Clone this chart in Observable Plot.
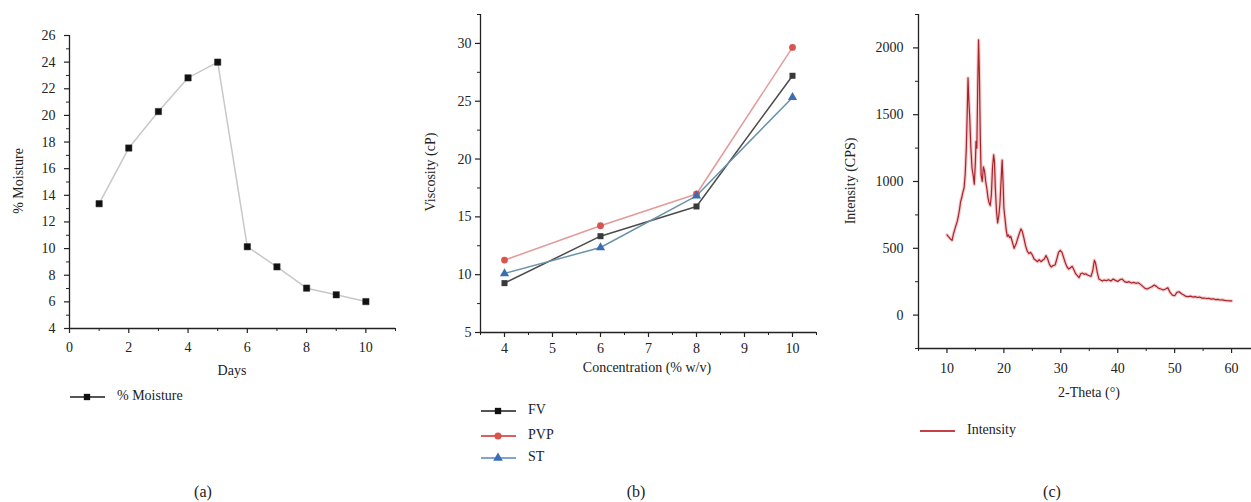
<!DOCTYPE html>
<html>
<head>
<meta charset="utf-8">
<script src="https://cdn.jsdelivr.net/npm/d3@7"></script>
<script src="https://cdn.jsdelivr.net/npm/@observablehq/plot@0.6"></script>
<style>
  html, body { margin: 0; padding: 0; background: #fff; }
  #page { position: relative; width: 1251px; height: 502px; overflow: hidden; font-family: "Liberation Serif", "DejaVu Serif", serif; color: #222; }
  .t { position: absolute; font-size: 14px; white-space: nowrap; transform: translate(-50%, -50%); }
  .rot { transform: translate(-50%, -50%) rotate(-90deg); }
  .cap { position: absolute; font-size: 16px; transform: translate(-50%, -50%); }
  .leg { position: absolute; font-size: 14px; white-space: nowrap; }
</style>
</head>
<body>
<div id="page"></div>
<script>
// ---------- Data ----------
// (a) Moisture vs days
const days = [1, 2, 3, 4, 5, 6, 7, 8, 9, 10];
const moisture = [13.37, 17.55, 20.29, 22.82, 24.0, 10.14, 8.63, 7.03, 6.53, 6.02];

// (b) Viscosity vs concentration
const concentration = [4, 6, 8, 10];
const viscFV = [9.27, 13.33, 15.9, 27.2];
const viscPVP = [11.26, 14.23, 16.98, 29.65];
const viscST = [10.1, 12.35, 16.82, 25.33];

// (c) XRD pattern
const theta = [10.0, 10.3, 10.6, 10.9, 11.1, 11.3, 11.5, 11.8, 12.0, 12.2, 12.4, 12.6, 12.8, 13.0, 13.2, 13.4, 13.55, 13.7, 13.85, 14.0, 14.2, 14.4, 14.6, 14.8, 15.0, 15.1, 15.25, 15.4, 15.55, 15.7, 15.85, 16.0, 16.2, 16.4, 16.6, 16.8, 17.0, 17.2, 17.4, 17.6, 17.8, 18.0, 18.2, 18.35, 18.5, 18.7, 18.9, 19.1, 19.3, 19.5, 19.7, 19.85, 20.0, 20.2, 20.4, 20.6, 20.8, 21.0, 21.2, 21.4, 21.6, 21.8, 22.0, 22.2, 22.4, 22.7, 23.0, 23.2, 23.5, 23.8, 24.1, 24.4, 24.7, 25.0, 25.3, 25.6, 25.9, 26.2, 26.5, 26.8, 27.1, 27.4, 27.7, 28.0, 28.3, 28.6, 29.0, 29.3, 29.6, 29.9, 30.2, 30.5, 30.8, 31.1, 31.4, 31.7, 32.0, 32.3, 32.6, 32.9, 33.2, 33.5, 33.8, 34.1, 34.4, 34.7, 35.0, 35.3, 35.6, 35.9, 36.1, 36.4, 36.7, 37.0, 37.3, 37.6, 38.0, 38.4, 38.8, 39.2, 39.6, 40.0, 40.4, 40.8, 41.2, 41.6, 42.0, 42.4, 42.8, 43.2, 43.6, 44.0, 44.4, 44.8, 45.2, 45.6, 46.0, 46.4, 46.8, 47.2, 47.6, 48.0, 48.4, 48.8, 49.2, 49.6, 50.0, 50.4, 50.8, 51.2, 51.6, 52.0, 52.4, 52.8, 53.2, 53.6, 54.0, 54.4, 54.8, 55.2, 55.6, 56.0, 56.4, 56.8, 57.2, 57.6, 58.0, 58.4, 58.8, 59.2, 59.6, 60.0];
const intensity = [600, 585, 570, 560, 600, 630, 660, 700, 740, 790, 850, 880, 920, 950, 1050, 1250, 1500, 1775, 1600, 1480, 1250, 1100, 1050, 980, 1150, 1300, 1250, 1700, 2060, 1800, 1350, 1050, 1000, 1110, 1080, 1000, 950, 880, 840, 820, 900, 1100, 1200, 1150, 950, 780, 690, 740, 830, 1000, 1160, 1000, 800, 720, 640, 590, 600, 580, 590, 560, 530, 500, 520, 540, 570, 610, 645, 630, 580, 520, 480, 460, 470, 450, 420, 410, 400, 415, 400, 410, 420, 445, 420, 380, 360, 370, 375, 420, 470, 485, 470, 430, 390, 360, 345, 355, 365, 340, 310, 295, 280, 310, 315, 305, 310, 300, 295, 290, 330, 410, 390, 320, 270, 262, 255, 262, 258, 265, 255, 270, 260, 252, 265, 270, 250, 245, 250, 240, 245, 238, 242, 230, 215, 200, 195, 205, 212, 225, 215, 200, 195, 188, 195, 205, 170, 150, 145, 170, 175, 160, 150, 140, 138, 142, 135, 138, 132, 135, 127, 128, 124, 126, 120, 122, 116, 118, 113, 114, 110, 108, 107, 106];

// Tick values
const aXMajor = [0, 2, 4, 6, 8, 10];
const aXMinor = [1, 3, 5, 7, 9, 11];
const aYMajor = [4, 6, 8, 10, 12, 14, 16, 18, 20, 22, 24, 26];
const aYMinor = [5, 7, 9, 11, 13, 15, 17, 19, 21, 23, 25];
const bXMajor = [4, 5, 6, 7, 8, 9, 10];
const bXMinor = [3.5, 4.5, 5.5, 6.5, 7.5, 8.5, 9.5, 10.5];
const bYMajor = [5, 10, 15, 20, 25, 30];
const bYMinor = [7.5, 12.5, 17.5, 22.5, 27.5, 32.5];
const cXMajor = [10, 20, 30, 40, 50, 60];
const cXMinor = [5, 15, 25, 35, 45, 55];
const cYMajor = [0, 500, 1000, 1500, 2000];
const cYMinor = [-250, 250, 750, 1250, 1750, 2250];

// ---------- Helpers ----------
const page = document.getElementById("page");
const FONT = '"Liberation Serif", "DejaVu Serif", serif';
const style = { fontFamily: FONT, fontSize: "14px", color: "#222", background: "transparent", overflow: "visible" };
function place(el, left, top) {
  el.style.position = "absolute";
  el.style.left = left + "px";
  el.style.top = top + "px";
  page.appendChild(el);
}
function text(str, x, y, cls) {
  const d = document.createElement("div");
  d.className = cls;
  d.textContent = str;
  d.style.left = x + "px";
  d.style.top = y + "px";
  page.appendChild(d);
  return d;
}
function axes(xMaj, xMin, yMaj, yMin, xMin0, yMin0, opt) {
  return [
    Plot.axisX(xMaj, { anchor: "bottom", tickSize: 5, tickPadding: opt.xPad, label: null, stroke: "#222", strokeWidth: 1.2, fill: "#222" }),
    Plot.axisX(xMin, { anchor: "bottom", tickSize: 3, tickFormat: () => "", label: null, stroke: "#222", strokeWidth: 1 }),
    Plot.axisY(yMaj, { anchor: "left", tickSize: 5, tickPadding: opt.yPad, label: null, stroke: "#222", strokeWidth: 1.2, fill: "#222", tickFormat: opt.yFmt }),
    Plot.axisY(yMin, { anchor: "left", tickSize: 3, tickFormat: () => "", label: null, stroke: "#222", strokeWidth: 1 }),
    Plot.ruleX([xMin0], { stroke: "#222", strokeWidth: 1.3 }),
    Plot.ruleY([yMin0], { stroke: "#222", strokeWidth: 1.3 })
  ];
}

// ---------- Panel (a) ----------
const dataA = days.map((d, i) => ({ day: d, m: moisture[i] }));
const plotA = Plot.plot({
  width: 410, height: 390,
  marginLeft: 69, marginRight: 15, marginTop: 35, marginBottom: 62,
  style,
  x: { domain: [0, 11] },
  y: { domain: [4, 26] },
  marks: [
    ...axes(aXMajor, aXMinor, aYMajor, aYMinor, 0, 4, { xPad: 9, yPad: 9 }),
    Plot.line(dataA, { x: "day", y: "m", stroke: "#c8c8c8", strokeWidth: 1.5 }),
    Plot.dot(dataA, { x: "day", y: "m", symbol: "square", r: 3.6, fill: "#111", stroke: "#333", strokeWidth: 0.5 })
  ]
});
place(plotA, 0, 0);
text("% Moisture", 19, 181, "t rot");
text("Days", 232, 371, "t");

// ---------- Panel (b) ----------
const dataFV = concentration.map((c, i) => ({ c, v: viscFV[i] }));
const dataPVP = concentration.map((c, i) => ({ c, v: viscPVP[i] }));
const dataST = concentration.map((c, i) => ({ c, v: viscST[i] }));
const plotB = Plot.plot({
  width: 400, height: 390,
  marginLeft: 60, marginRight: 4, marginTop: 14, marginBottom: 58,
  style,
  x: { domain: [3.5, 10.5] },
  y: { domain: [5, 32.5] },
  marks: [
    ...axes(bXMajor, bXMinor, bYMajor, bYMinor, 3.5, 5, { xPad: 6, yPad: 4 }),
    Plot.line(dataFV, { x: "c", y: "v", stroke: "#4b4b4b", strokeWidth: 1.5 }),
    Plot.line(dataPVP, { x: "c", y: "v", stroke: "#e39a98", strokeWidth: 1.5 }),
    Plot.line(dataST, { x: "c", y: "v", stroke: "#6a93ab", strokeWidth: 1.5 }),
    Plot.dot(dataFV, { x: "c", y: "v", symbol: "square", r: 3.4, fill: "#3a3a3a" }),
    Plot.dot(dataPVP, { x: "c", y: "v", symbol: "circle", r: 3.4, fill: "#d9534f" }),
    Plot.dot(dataST, { x: "c", y: "v", symbol: "triangle", r: 3.4, fill: "#3b6db3" })
  ]
});
place(plotB, 420, 0);
text("Viscosity (cP)", 431, 172, "t rot");
text("Concentration (% w/v)", 647, 368, "t");

// ---------- Panel (c) ----------
const dataC = theta.map((t, i) => ({ t, y: intensity[i] }));
const plotC = Plot.plot({
  width: 411, height: 390,
  marginLeft: 78, marginRight: 0, marginTop: 14, marginBottom: 42,
  style,
  x: { domain: [5, 63.5] },
  y: { domain: [-250, 2250] },
  marks: [
    ...axes(cXMajor, cXMinor, cYMajor, cYMinor, 5, -250, { xPad: 10, yPad: 10, yFmt: d3.format("d") }),
    Plot.line(dataC, { x: "t", y: "y", stroke: "#f0c0c0", strokeWidth: 3.5, strokeOpacity: 0.8 }),
    Plot.line(dataC, { x: "t", y: "y", stroke: "#a8232b", strokeWidth: 1.2 })
  ]
});
place(plotC, 840, 0);
text("Intensity (CPS)", 851, 181, "t rot");
text("2-Theta (°)", 1089, 393, "t");

// ---------- Legends ----------
function legendItem(x, y, lineColor, markerColor, symbol, label, lineW) {
  const svg = d3.create("svg").attr("width", 40).attr("height", 14);
  svg.append("line").attr("x1", 1).attr("x2", 36).attr("y1", 7).attr("y2", 7).attr("stroke", lineColor).attr("stroke-width", lineW || 2);
  if (symbol) {
    svg.append("path").attr("transform", "translate(18,7)")
      .attr("d", d3.symbol().type(symbol).size(40)())
      .attr("fill", markerColor);
  }
  place(svg.node(), x, y - 7);
  const t = document.createElement("div");
  t.className = "leg";
  t.textContent = label;
  t.style.left = (x + 48) + "px";
  t.style.top = (y - 9) + "px";
  page.appendChild(t);
}
legendItem(69, 397, "#555", "#111", d3.symbolSquare, "% Moisture");
legendItem(480, 411, "#555", "#111", d3.symbolSquare, "FV");
legendItem(480, 436, "#d9605c", "#d9534f", d3.symbolCircle, "PVP");
legendItem(480, 458, "#7ea3d6", "#3b6db3", d3.symbolTriangle, "ST");
legendItem(919, 431, "#c74045", null, null, "Intensity");

// ---------- Captions ----------
text("(a)", 203, 492, "cap");
text("(b)", 636, 492, "cap");
text("(c)", 1052, 492, "cap");
</script>
</body>
</html>
